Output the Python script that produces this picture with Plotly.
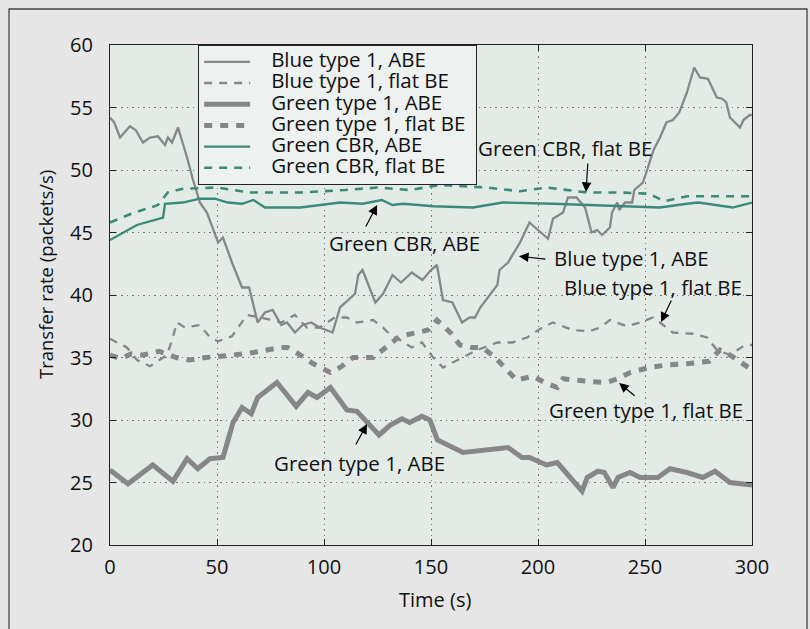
import plotly.graph_objects as go

# ---------------- data ----------------
t_blue_abe = [0, 2, 4.7, 9.3, 12, 15.4, 18.7, 22.4, 25.7, 27.1, 29, 31.8, 36, 38.8, 42, 45.3, 50.5, 52.8, 57,
              61.7, 65, 69, 72.4, 76, 80, 82.7, 86.4, 90, 94, 98, 104, 107.5, 114.5, 116, 118, 124, 127.6, 132,
              136, 141, 146, 150, 152.8, 155.6, 160, 164.5, 168, 170.6, 173, 181, 182, 186, 191.6, 196, 200,
              204.7, 207, 211.7, 214, 218, 222, 225, 227.6, 230, 233.6, 234.6, 237, 238, 240.6, 244, 245, 249,
              251, 254, 257, 260, 263, 266, 269.6, 273, 275.7, 279.4, 283.6, 286, 288, 289.7, 294.4, 296, 299, 300]
v_blue_abe = [54.2, 53.8, 52.6, 53.5, 53.2, 52.2, 52.6, 52.7, 52.0, 52.6, 52.2, 53.4, 51.0, 49.2, 47.4, 46.6, 44.2,
              44.6, 42.6, 40.6, 40.6, 37.8, 38.6, 38.8, 37.6, 37.8, 37.0, 37.6, 37.8, 37.4, 37.0, 39.0, 40.1, 41.6,
              42.0, 39.4, 40.1, 41.6, 41.0, 41.8, 41.2, 42.0, 42.4, 39.6, 39.4, 37.8, 38.2, 38.2, 39.0, 40.8, 42.0,
              42.6, 44.2, 45.8, 45.2, 44.5, 46.1, 46.6, 47.8, 47.8, 47.0, 45.0, 45.2, 44.8, 45.4, 46.6, 47.4, 46.8,
              47.4, 47.4, 48.4, 49.0, 50.0, 51.6, 52.6, 53.8, 54.0, 54.6, 56.2, 58.2, 57.4, 57.3, 55.8, 55.7, 55.4,
              54.2, 53.4, 54.0, 54.4, 54.4]

t_blue_flat = [0, 7.9, 12.6, 18.7, 26.6, 29, 31.3, 35, 42, 46.7, 50.5, 57, 64, 70, 76, 80, 86.4, 92, 98, 105,
               110.7, 115.4, 123, 127.6, 131, 135.5, 141, 145.8, 151, 155.6, 164.5, 171.5, 181, 188, 194.9, 202,
               207, 216, 224, 229, 233.6, 241.6, 247.7, 253.7, 257, 263, 272.4, 279, 283.6, 289.7, 296.7, 300]
v_blue_flat = [36.5, 35.8, 34.8, 34.3, 35.2, 36.4, 37.8, 37.4, 37.6, 36.6, 36.3, 36.7, 38.4, 38.2, 38.0, 37.8,
               38.4, 37.4, 37.4, 38.2, 38.2, 37.8, 38.0, 37.4, 36.8, 36.4, 35.8, 36.2, 35.0, 34.2, 35.0, 35.6,
               36.2, 36.2, 36.6, 37.4, 37.8, 37.2, 37.1, 37.4, 38.0, 37.5, 37.8, 38.2, 37.8, 37.0, 36.9, 36.6,
               35.6, 35.2, 36.0, 36.0]

t_green_abe = [0, 8.4, 20, 29.4, 36, 41, 46.7, 52.8, 57.5, 61.7, 66, 69, 78, 87, 92.5, 96.7, 103, 110.7, 115.4,
               125.7, 131, 136.4, 140, 145.8, 149.5, 153, 165, 186, 192.5, 196, 204, 209, 220.6, 223, 228, 231,
               235, 237.4, 243, 247.7, 256, 261.7, 269.6, 277, 282.7, 289.7, 300]
v_green_abe = [26.0, 24.9, 26.4, 25.1, 26.9, 26.1, 26.9, 27.0, 29.8, 31.0, 30.5, 31.8, 33.0, 31.1, 32.2, 31.8,
               32.6, 30.8, 30.7, 28.8, 29.6, 30.1, 29.8, 30.3, 30.0, 28.4, 27.4, 27.8, 27.0, 27.0, 26.4, 26.6,
               24.3, 25.4, 25.9, 25.8, 24.6, 25.4, 25.8, 25.4, 25.4, 26.1, 25.8, 25.4, 25.9, 25.0, 24.8]

t_green_flat = [0, 5, 10, 15.4, 23, 31, 37, 45, 57.5, 67, 79.4, 83, 89, 95, 103, 107.5, 113.6, 123, 131, 135.5,
                143.5, 148.6, 152.8, 159, 163.5, 169, 174, 180, 185.5, 190, 197.7, 203, 209, 211.7, 223, 232,
                237.4, 243, 252, 260, 269.6, 280, 285, 289.7, 300]
v_green_flat = [35.2, 34.9, 35.3, 35.2, 35.5, 35.0, 34.8, 35.0, 35.2, 35.4, 35.8, 35.8, 35.2, 34.5, 33.8, 34.2,
                35.0, 35.0, 36.1, 36.7, 37.0, 37.2, 38.0, 37.0, 36.0, 35.8, 35.8, 35.0, 34.0, 33.2, 33.5, 33.0,
                32.6, 33.3, 33.1, 33.0, 33.3, 33.8, 34.2, 34.4, 34.5, 34.7, 35.6, 35.2, 34.0]

t_cbr_abe = [0, 12.6, 24.8, 25.7, 34, 42, 49, 55, 61.7, 67, 72.4, 89, 107.5, 118, 127, 132, 137, 151, 169.6,
             183.6, 207, 238, 257, 269.6, 275, 291, 300]
v_cbr_abe = [44.4, 45.6, 46.2, 47.3, 47.4, 47.7, 47.7, 47.4, 47.3, 47.6, 47.0, 47.0, 47.4, 47.3, 47.6, 47.2,
             47.3, 47.1, 47.0, 47.4, 47.3, 47.1, 47.0, 47.3, 47.4, 47.0, 47.4]

t_cbr_flat = [0, 10, 22.4, 27, 34, 50, 65, 89, 110, 125, 140, 154, 176, 191.6, 204, 223, 238, 252, 259, 269.6, 300]
v_cbr_flat = [45.8, 46.5, 47.2, 48.2, 48.5, 48.6, 48.2, 48.2, 48.4, 48.6, 48.4, 48.8, 48.6, 48.3, 48.6, 48.2,
              48.2, 48.1, 47.5, 47.9, 47.9]

series_names = ["Blue type 1, ABE", "Blue type 1, flat BE", "Green type 1, ABE",
                "Green type 1, flat BE", "Green CBR, ABE", "Green CBR, flat BE"]

x_ticks = [0, 50, 100, 150, 200, 250, 300]
y_ticks = [20, 25, 30, 35, 40, 45, 50, 55, 60]

# callouts: label, label position (t, v), arrow head (t, v), arrow tail offset (px)
callout_text = ["Green CBR, flat BE", "Green CBR, ABE", "Blue type 1, ABE",
                "Blue type 1, flat BE", "Green type 1, flat BE", "Green type 1, ABE"]
callout_text_t = [212.6, 137.4, 243.9, 253.7, 250.5, 116.5]
callout_text_v = [51.76, 44.16, 42.96, 40.64, 30.8, 26.56]
callout_head_t = [222.4, 124.8, 191.1, 257.5, 237.9, 120.1]
callout_head_v = [48.24, 47.2, 43.1, 37.84, 32.96, 29.68]
callout_ax = [2, -12, 28, 11, 17, -12]
callout_ay = [-30, 23, 3, -23, 14, 22]

# ---------------- styling ----------------
GRAY = "#878787"
TEAL = "#3b8a79"
FONT = "Open Sans"
TXT = 20.5

fig = go.Figure()
styles = [
    (t_blue_abe, v_blue_abe, dict(color=GRAY, width=2.3)),
    (t_blue_flat, v_blue_flat, dict(color=GRAY, width=2.3, dash="8px,7px")),
    (t_green_abe, v_green_abe, dict(color=GRAY, width=5)),
    (t_green_flat, v_green_flat, dict(color=GRAY, width=5, dash="8px,8px")),
    (t_cbr_abe, v_cbr_abe, dict(color=TEAL, width=2.3)),
    (t_cbr_flat, v_cbr_flat, dict(color=TEAL, width=2.6, dash="8px,7px")),
]
for (tx, vy, ln), name in zip(styles, series_names):
    fig.add_trace(go.Scatter(x=tx, y=vy, mode="lines", line=ln,
                             name='<span style="font-size:%spx">&nbsp;&nbsp;&nbsp;%s&nbsp;</span>' % (TXT, name)))

annotations = []
for txt, tt, tv, ht, hv, ax, ay in zip(callout_text, callout_text_t, callout_text_v,
                                        callout_head_t, callout_head_v, callout_ax, callout_ay):
    annotations.append(dict(x=tt, y=tv, xref="x", yref="y", text=txt, showarrow=False,
                            xanchor="center", yanchor="middle",
                            font=dict(family=FONT, size=TXT, color="#111")))
    annotations.append(dict(x=ht, y=hv, xref="x", yref="y", text="", showarrow=True,
                            ax=ax, ay=ay, arrowhead=2, arrowsize=1.6, arrowwidth=1.2,
                            arrowcolor="#000", standoff=0, startstandoff=0))

annotations.append(dict(x=-0.1012, y=0.54, xref="paper", yref="paper", text="Transfer rate (packets/s)",
                        textangle=-90, showarrow=False, xanchor="center", yanchor="middle",
                        font=dict(family=FONT, size=18.5, color="#111")))
annotations.append(dict(x=0.506, y=-0.108, xref="paper", yref="paper", text="Time (s)",
                        showarrow=False, xanchor="center", yanchor="middle",
                        font=dict(family=FONT, size=20, color="#111")))

axis_common = dict(ticks="inside", ticklen=6, tickwidth=1, tickcolor="#222",
                   showline=True, linecolor="#222", linewidth=1.3, mirror="ticks",
                   showgrid=True, gridcolor="#7a7a7a", griddash="1.5px,4px", gridwidth=1,
                   zeroline=False, tickfont=dict(family=FONT, size=20, color="#111"))

fig.update_layout(
    width=810, height=629, autosize=False,
    margin=dict(l=110, r=58, t=45, b=84),
    paper_bgcolor="#e6e6e6", plot_bgcolor="#e3ebe7",
    font=dict(family=FONT, color="#111"),
    xaxis=dict(range=[0, 300], tickvals=x_ticks, ticklabelstandoff=4, **axis_common),
    yaxis=dict(range=[20, 60], tickvals=y_ticks, ticklabelstandoff=12, **axis_common),
    legend=dict(x=0.137, y=1, xanchor="left", yanchor="top", bgcolor="#edf1ef",
                bordercolor="#222", borderwidth=1.2, font=dict(family=FONT, size=14, color="#111"),
                itemwidth=46, tracegroupgap=0),
    showlegend=True,
    annotations=annotations,
    shapes=[dict(type="rect", xref="paper", yref="paper", x0=-0.1573, x1=1.0857, y0=-0.3, y1=1.072,
                 line=dict(color="#444", width=1.3), fillcolor="rgba(0,0,0,0)", layer="below")],
)

fig.write_html("out.html", config={"displayModeBar": False},
               post_script="document.body.style.margin='0';document.body.style.overflow='hidden';"
                           "document.body.style.background='#e6e6e6';")
